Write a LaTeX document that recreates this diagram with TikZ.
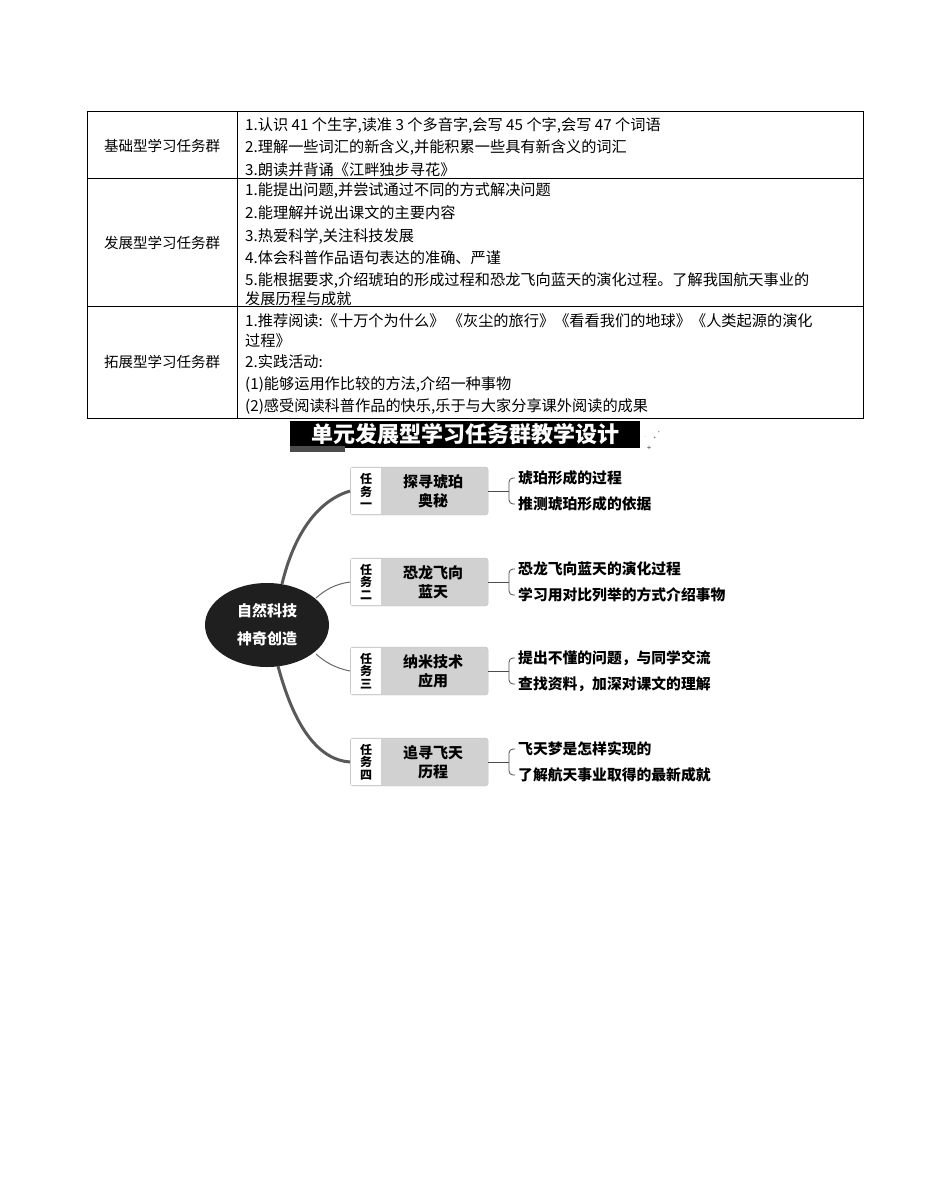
\documentclass[tikz,border=0pt]{standalone}
\usepackage{fontspec}
\usetikzlibrary{shapes.geometric}
\setmainfont{Liberation Serif}
\newfontfamily\cjk{Noto Sans CJK SC}
\newcommand\cjkb{\cjk\bfseries}
\begin{document}
\begin{tikzpicture}[x=1pt,y=-1pt,
  cell/.style={anchor=west,font=\cjk\fontsize{15.2}{15}\selectfont,inner sep=0pt},
  item/.style={anchor=west,font=\cjkb\fontsize{14.8}{16}\selectfont,inner sep=0pt},
  task/.style={fill=black!18,rounded corners=3pt,draw=black!25,minimum width=138pt,minimum height=48pt,anchor=west},
  tag/.style={fill=white,minimum width=30pt,minimum height=46pt,inner sep=0pt,align=center,font=\cjkb\fontsize{12}{12.5}\selectfont,anchor=west},
  ttl/.style={font=\cjkb\fontsize{15}{19}\selectfont,align=center},
  br/.style={draw=black!70,line width=0.8pt}]
\useasboundingbox (0,0) rectangle (950,1200);
% table
\draw[line width=0.8pt] (87,111) rectangle (863,418);
\draw[line width=0.8pt] (87,178) -- (863,178) (87,306) -- (863,306) (237,111) -- (237,418);
\node[font=\cjk\fontsize{14.5}{15}\selectfont] (r1) at (162,146) {基础型学习任务群};
\node[font=\cjk\fontsize{14.5}{15}\selectfont] (r2) at (162,243) {发展型学习任务群};
\node[font=\cjk\fontsize{14.5}{15}\selectfont] (r3) at (162,362) {拓展型学习任务群};
\node[cell] (a1) at (245,125) {1.认识 41 个生字,读准 3 个多音字,会写 45 个字,会写 47 个词语};
\node[cell] (a2) at (245,148) {2.理解一些词汇的新含义,并能积累一些具有新含义的词汇};
\node[cell] (a3) at (245,170) {3.朗读并背诵《江畔独步寻花》};
\node[cell] (b1) at (245,191) {1.能提出问题,并尝试通过不同的方式解决问题};
\node[cell] (b2) at (245,213) {2.能理解并说出课文的主要内容};
\node[cell] (b3) at (245,236) {3.热爱科学,关注科技发展};
\node[cell] (b4) at (245,258) {4.体会科普作品语句表达的准确、严谨};
\node[cell] (b5) at (245,280) {5.能根据要求,介绍琥珀的形成过程和恐龙飞向蓝天的演化过程。了解我国航天事业的};
\node[cell] (b6) at (245,299) {发展历程与成就};
\node[cell] (c1) at (245,321) {1.推荐阅读:《十万个为什么》\ 《灰尘的旅行》《看看我们的地球》《人类起源的演化};
\node[cell] (c2) at (245,341) {过程》};
\node[cell] (c3) at (245,362) {2.实践活动:};
\node[cell] (c4) at (245,385) {(1)能够运用作比较的方法,介绍一种事物};
\node[cell] (c5) at (245,407) {(2)感受阅读科普作品的快乐,乐于与大家分享课外阅读的成果};
% banner
\fill[black] (290,421) rectangle (640,448);
\fill[black!70] (290,446) rectangle (345,452);
\node[text=white,font=\cjkb\fontsize{22}{22}\selectfont] (ban) at (465,434) {单元发展型学习任务群教学设计};
\node[font=\fontsize{8}{8}\selectfont] (s1) at (649,448) {+};
\node[font=\fontsize{5}{5}\selectfont] (s2) at (655,438) {+};
\node[font=\fontsize{4}{4}\selectfont] (s3) at (659,432) {+};
\node[font=\fontsize{4}{4}\selectfont] (s4) at (645,437) {.};
% central
\node[ellipse,fill=black!88,minimum width=124pt,minimum height=84pt,draw=none,text=white,align=center,font=\cjkb\fontsize{15}{20}\selectfont] (ctr) at (267,625) {自然科技\\[8pt]神奇创造};
% tasks
\foreach \n/\y/\num/\t/\i/\j in {1/491/一/探寻琥珀\\奥秘/琥珀形成的过程/推测琥珀形成的依据,
  2/582/二/恐龙飞向\\蓝天/恐龙飞向蓝天的演化过程/学习用对比列举的方式介绍事物,
  3/671/三/纳米技术\\应用/提出不懂的问题，与同学交流/查找资料，加深对课文的理解,
  4/762/四/追寻飞天\\历程/飞天梦是怎样实现的/了解航天事业取得的最新成就}{
  \node[task] (t\n) at (350,\y) {};
  \node[tag] (g\n) at (351,\y) {任\\务\\\num};
  \node[ttl] (l\n) at (433,\y) {\t};
  \draw[br] (t\n.east) -- (509,\y);
  \draw[br,rounded corners=4pt] (515,\y-13) -- (509,\y-13) -- (509,\y+13) -- (515,\y+13);
  \node[item] (p\n) at (518,\y-13) {\i};
  \node[item] (q\n) at (518,\y+13) {\j};
}
% branches
\draw[black!65,line width=3pt] (282,584) .. controls (295,530) and (320,500) .. (t1.west);
\draw[black!65,line width=3pt] (278,666) .. controls (295,730) and (320,760) .. (t4.west);
\draw[black!60,line width=1pt] (316,598) .. controls (325,590) and (335,584) .. (t2.west);
\draw[black!60,line width=1pt] (316,654) .. controls (325,662) and (335,668) .. (t3.west);
\end{tikzpicture}
\end{document}
